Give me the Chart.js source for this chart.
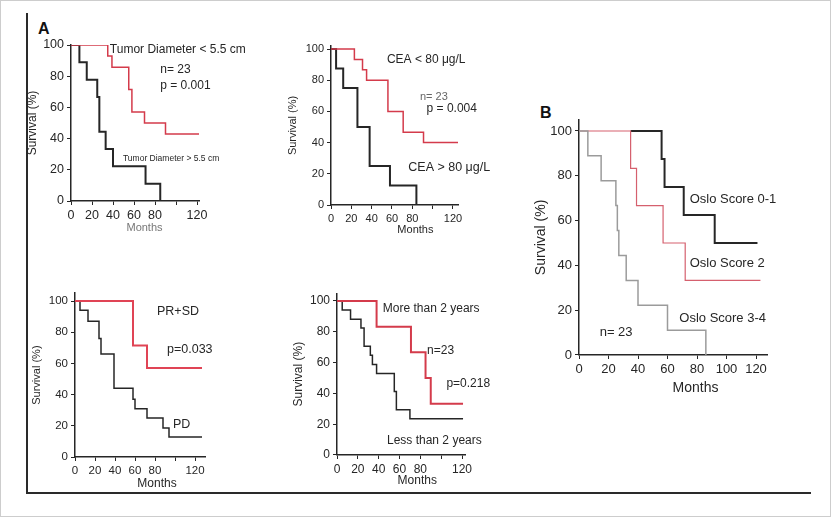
<!DOCTYPE html>
<html>
<head>
<meta charset="utf-8">
<script src="https://cdn.jsdelivr.net/npm/chart.js@4.4.1/dist/chart.umd.min.js"></script>
<style>
  html, body { margin: 0; padding: 0; background: #fff; }
  #fig { position: relative; width: 831px; height: 517px; overflow: hidden; background: #fff;
         box-shadow: inset 0 0 0 1px #cdcdcd; font-family: "Liberation Sans", Arial, sans-serif; }
  #fig canvas { position: absolute; }
  .rule { position: absolute; background: #2a2a2a; }
  .tag { position: absolute; font-weight: bold; font-size: 16px; color: #111; line-height: 1; }
</style>
</head>
<body>
<div id="fig">
  <div class="rule" style="left:26px;top:13px;width:2px;height:481px;"></div>
  <div class="rule" style="left:26px;top:492px;width:785px;height:2px;"></div>
  <div class="tag" style="left:38px;top:21px;">A</div>
  <div class="tag" style="left:540px;top:105px;">B</div>
</div>
<script>
// ---- data (months, survival %) ----
// A1: tumour diameter
const diamSmallMonths = [0, 35, 39, 55, 58, 70, 90, 122];
const diamSmallSurv   = [100, 92.9, 85.7, 71.4, 57.1, 50, 42.9, 42.9];
const diamLargeMonths = [0, 8, 15, 25, 27, 33, 40, 71, 85];
const diamLargeSurv   = [100, 88.9, 77.8, 66.7, 44.4, 33.3, 22.2, 11.1, 0];

// A2: CEA
const ceaLowMonths  = [0, 23, 31, 35, 56, 71, 91, 125];
const ceaLowSurv    = [100, 93.3, 86.7, 80, 60, 46.7, 40, 40];
const ceaHighMonths = [0, 5, 12, 26, 38, 58, 84];
const ceaHighSurv   = [100, 87.5, 75, 50, 25, 12.5, 0];

// A3: response
const prsdMonths = [0, 58, 72, 127];
const prsdSurv   = [100, 71.4, 57.1, 57.1];
const pdMonths   = [0, 5, 13, 24, 26, 39, 58, 60, 72, 88, 94, 127];
const pdSurv     = [100, 94, 87, 76, 66, 44, 37, 31, 25, 18.6, 12.8, 12.8];

// A4: time to recurrence
const moreMonths = [0, 38, 71, 85, 90, 121];
const moreSurv   = [100, 83.3, 66.7, 50, 33.3, 33.3];
const lessMonths = [0, 5, 13, 23, 26, 32, 34, 38, 55, 57, 70, 121];
const lessSurv   = [100, 94.1, 88.2, 82.4, 70.6, 64.7, 58.8, 52.9, 41.2, 29.4, 23.5, 23.5];

// B: Oslo score (0-1 curve is only visible from ~35 months, under the red one before)
const oslo01Months = [35, 56, 58, 71, 92, 121];
const oslo01Surv   = [100, 87.5, 75, 62.5, 50, 50];
const oslo2Months  = [0, 35, 39, 57, 72, 123];
const oslo2Surv    = [100, 83.3, 66.7, 50, 33.3, 33.3];
const oslo34Months = [0, 6, 15, 25, 26, 27, 32, 40, 60, 86];
const oslo34Surv   = [100, 88.9, 77.8, 66.7, 55.6, 44.4, 33.3, 22.2, 11.1, 0];

const FONT = '"Liberation Sans", Arial, Helvetica, sans-serif';
const INK = '#262626';
const RED = '#d43b4b';
const PINK = '#d5606e';
const GREY = '#9b9b9b';
const YW = 48, XH = 44, PT = 10;

const steps = (months, surv) => months.map((m, i) => ({ x: m, y: surv[i] }));

function notes(items) {
  return {
    id: 'notes',
    afterDatasetsDraw(chart) {
      const { ctx, scales: { x, y } } = chart;
      items.forEach(n => {
        ctx.save();
        ctx.font = n.size + 'px ' + FONT;
        ctx.fillStyle = n.color || INK;
        ctx.textAlign = n.align || 'left';
        ctx.textBaseline = 'middle';
        ctx.fillText(n.text, x.getPixelForValue(n.x), y.getPixelForValue(n.y));
        ctx.restore();
      });
    }
  };
}

const panels = [
  { x0: 71, x120: 197, xMax: 122, y100: 45, y0: 201, yMax: 100, padRight: 60, tick: 12.5, title: 12, hide100: true,
    series: [
      { pts: steps(diamSmallMonths, diamSmallSurv), color: RED, width: 1.5 },
      { pts: steps(diamLargeMonths, diamLargeSurv), color: INK, width: 2 }
    ],
    notes: [
      { text: 'Tumor Diameter < 5.5 cm', x: 37, y: 97, size: 12 },
      { text: 'n= 23', x: 85, y: 84, size: 12 },
      { text: 'p = 0.001', x: 85, y: 74, size: 12 },
      { text: 'Tumor Diameter > 5.5 cm', x: 49.5, y: 27, size: 8.5 },
      { text: 'Months', x: 70, y: -17, size: 11, align: 'center', color: '#777' }
    ] },
  { x0: 331, x120: 453, xMax: 125, y100: 49, y0: 205, yMax: 102, padRight: 45, tick: 11, title: 11, hide100: true,
    series: [
      { pts: steps(ceaLowMonths, ceaLowSurv), color: RED, width: 1.5 },
      { pts: steps(ceaHighMonths, ceaHighSurv), color: INK, width: 2 }
    ],
    notes: [
      { text: 'CEA < 80 μg/L', x: 55, y: 93, size: 12 },
      { text: 'n= 23', x: 87.5, y: 69, size: 11, color: '#666' },
      { text: 'p = 0.004', x: 94, y: 61.5, size: 12 },
      { text: 'CEA > 80 μg/L', x: 76, y: 24, size: 12.5 },
      { text: 'Months', x: 83, y: -16, size: 11, align: 'center' }
    ] },
  { x0: 75, x120: 195, xMax: 130, y100: 301, y0: 457, yMax: 105, padRight: 25, tick: 11.5, title: 11, hide100: true,
    series: [
      { pts: steps(prsdMonths, prsdSurv), color: '#e04455', width: 2 },
      { pts: steps(pdMonths, pdSurv), color: INK, width: 1.5 }
    ],
    notes: [
      { text: 'PR+SD', x: 82, y: 93, size: 12.5 },
      { text: 'p=0.033', x: 92, y: 68.6, size: 12.5 },
      { text: 'PD', x: 98, y: 20.5, size: 12.5 },
      { text: 'Months', x: 82, y: -17, size: 12, align: 'center' }
    ] },
  { x0: 337, x120: 462, xMax: 123, y100: 301, y0: 455, yMax: 105, padRight: 40, tick: 12, title: 12, hide100: true,
    series: [
      { pts: steps(moreMonths, moreSurv), color: RED, width: 2 },
      { pts: steps(lessMonths, lessSurv), color: INK, width: 1.5 }
    ],
    notes: [
      { text: 'More than 2 years', x: 44, y: 95, size: 12 },
      { text: 'n=23', x: 86.5, y: 68, size: 12 },
      { text: 'p=0.218', x: 105, y: 46, size: 12 },
      { text: 'Less than 2 years', x: 48, y: 9, size: 12 },
      { text: 'Months', x: 77, y: -17, size: 12, align: 'center' }
    ] },
  { x0: 579, x120: 756, xMax: 128, y100: 131, y0: 355, yMax: 105, padRight: 30, tick: 13, title: 14, hide100: false,
    series: [
      { pts: steps(oslo34Months, oslo34Surv), color: GREY, width: 1.5 },
      { pts: steps(oslo2Months, oslo2Surv), color: PINK, width: 1.2 },
      { pts: steps(oslo01Months, oslo01Surv), color: INK, width: 2 }
    ],
    notes: [
      { text: 'Oslo Score 0-1', x: 75, y: 69.6, size: 13 },
      { text: 'Oslo Score 2', x: 75, y: 41, size: 13 },
      { text: 'Oslo Score 3-4', x: 68, y: 16.5, size: 13 },
      { text: 'n= 23', x: 14, y: 10, size: 13 },
      { text: 'Months', x: 79, y: -15, size: 14, align: 'center' }
    ] }
];

const fig = document.getElementById('fig');

panels.forEach(p => {
  const ppm = (p.x120 - p.x0) / 120;
  const ppp = (p.y0 - p.y100) / 100;
  const areaW = p.xMax * ppm;
  const areaH = p.yMax * ppp;
  const areaTop = p.y0 - areaH;
  const left = Math.floor(p.x0 - YW);
  const yw = p.x0 - left;
  const top = Math.floor(areaTop - PT);
  const pt = areaTop - top;
  const width = Math.ceil(yw + areaW + p.padRight);
  const height = Math.ceil(pt + areaH + XH);
  const xh = height - pt - areaH;

  const cv = document.createElement('canvas');
  cv.width = width; cv.height = height;
  cv.style.left = left + 'px'; cv.style.top = top + 'px';
  cv.style.width = width + 'px'; cv.style.height = height + 'px';
  fig.appendChild(cv);

  const axisLook = {
    grid: { display: true, drawOnChartArea: false, drawTicks: true, tickLength: 4, color: INK, lineWidth: 1 },
    border: { display: true, color: INK, width: 1.5 }
  };
  const titleLh = p.title * 1.2;

  new Chart(cv, {
    type: 'line',
    data: {
      datasets: p.series.map(s => ({
        data: s.pts, stepped: true, borderColor: s.color, borderWidth: s.width,
        pointRadius: 0, fill: false, tension: 0
      }))
    },
    options: {
      responsive: false, animation: false, events: [],
      layout: { padding: { left: 0, top: pt, right: width - yw - areaW, bottom: 0 } },
      plugins: { legend: { display: false }, tooltip: { enabled: false } },
      scales: {
        x: {
          type: 'linear', min: 0, max: p.xMax, ...axisLook,
          ticks: { stepSize: 20, includeBounds: false, autoSkip: false, maxRotation: 0, padding: 3,
                   color: INK, font: { family: FONT, size: p.tick },
                   callback: v => (p.hide100 && v === 100) ? '' : v },
          afterFit: s => { s.height = xh; s.paddingLeft = s.paddingRight = s.paddingTop = s.paddingBottom = 0; }
        },
        y: {
          type: 'linear', min: 0, max: p.yMax, ...axisLook,
          ticks: { stepSize: 20, includeBounds: false, padding: 3, color: INK,
                   font: { family: FONT, size: p.tick } },
          title: { display: true, text: 'Survival (%)', color: INK,
                   font: { family: FONT, size: p.title, lineHeight: 1.2 },
                   padding: { top: Math.max(0, yw - 38 - titleLh / 2), bottom: 0 } },
          afterFit: s => { s.width = yw; s.paddingLeft = s.paddingRight = s.paddingTop = s.paddingBottom = 0; }
        }
      }
    },
    plugins: [notes(p.notes)]
  });
});
</script>
</body>
</html>
